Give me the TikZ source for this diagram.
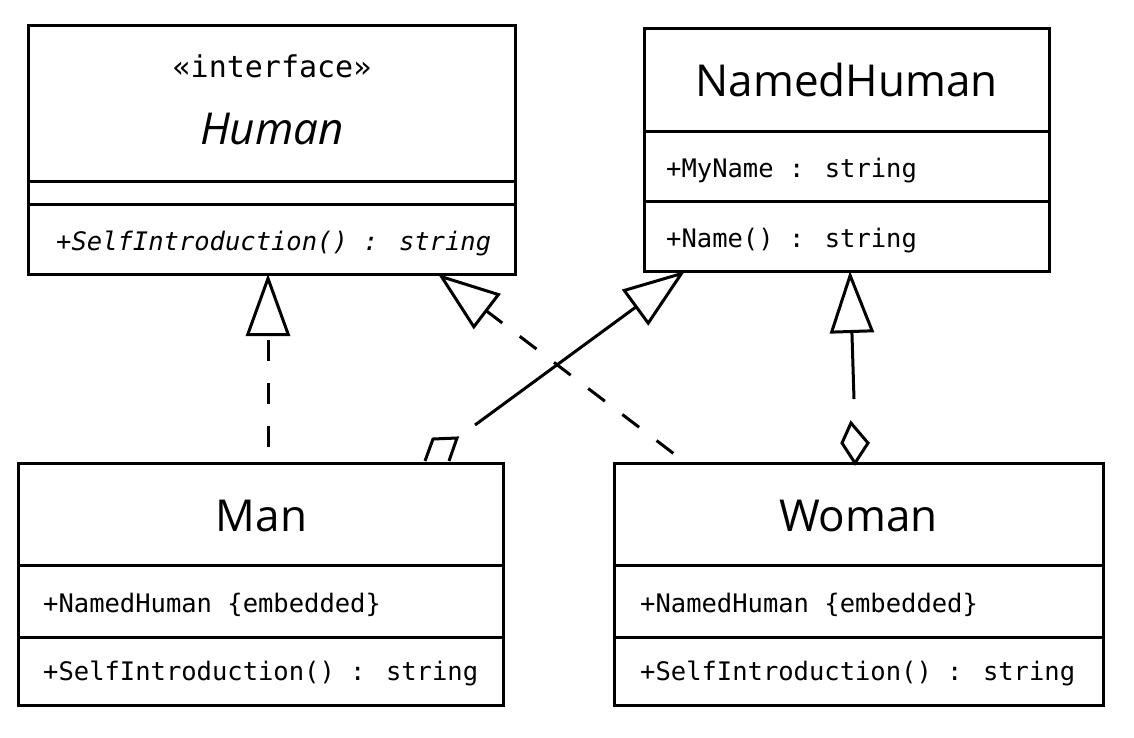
\documentclass[tikz,border=0pt]{standalone}
\usepackage{fontspec}
\setmainfont{Open Sans}
\newfontfamily\monofont{DejaVu Sans Mono}
\usetikzlibrary{arrows.meta}
\tikzset{
  umlbox/.style={draw, line width=3pt, fill=white, rectangle, outer sep=0pt, inner sep=0pt},
  sepline/.style={line width=3pt},
  titletxt/.style={font=\fontsize{44}{48}\selectfont, inner sep=0pt, anchor=base},
  stereotxt/.style={font=\monofont\fontsize{30}{34}\selectfont, inner sep=0pt, anchor=base},
  membertxt/.style={font=\monofont\fontsize{25.5}{30}\selectfont, inner sep=0pt, anchor=base west},
  conn/.style={line width=3pt, -{Triangle[length=62pt, width=44pt, fill=white, line join=miter]}},
  dashconn/.style={conn, dash pattern=on 21pt off 22pt, dash phase=27pt},
  aggshape/.style={line width=3pt, fill=white, line join=miter},
}
\begin{document}
\begin{tikzpicture}[x=1pt, y=-1pt]
\useasboundingbox (0,0) rectangle (1134,737);

% Human interface
\node[umlbox, minimum width=487pt, minimum height=249pt] (human) at (271.5,149.5) {};
\draw[sepline] (human.west |- 0,181) -- (human.east |- 0,181);
\draw[sepline] (human.west |- 0,204) -- (human.east |- 0,204);
\node[stereotxt] (humanst) at (272,77) {«interface»};
\node[titletxt, font=\fontsize{44}{48}\selectfont\itshape] (humant) at (272,144) {Human};
\node[membertxt, font=\monofont\fontsize{25.5}{30}\selectfont\itshape] (humanm) at (56,250) {+SelfIntroduction() : string};

% NamedHuman
\node[umlbox, minimum width=405pt, minimum height=243pt] (named) at (846.5,149.5) {};
\draw[sepline] (named.west |- 0,131) -- (named.east |- 0,131);
\draw[sepline] (named.west |- 0,201) -- (named.east |- 0,201);
\node[titletxt] (namedt) at (846.5,96) {NamedHuman};
\node[membertxt] (nameda) at (666,177) {+MyName : string};
\node[membertxt] (namedm) at (666,247) {+Name() : string};

% Man
\node[umlbox, minimum width=485pt, minimum height=242pt] (man) at (260.5,584) {};
\draw[sepline] (man.west |- 0,565) -- (man.east |- 0,565);
\draw[sepline] (man.west |- 0,637) -- (man.east |- 0,637);
\node[titletxt] (mant) at (261.5,531) {Man};
\node[membertxt] (mana) at (43,612) {+NamedHuman \{embedded\}};
\node[membertxt] (manm) at (43,680) {+SelfIntroduction() : string};

% Woman
\node[umlbox, minimum width=489pt, minimum height=242pt] (woman) at (858.5,584) {};
\draw[sepline] (woman.west |- 0,565) -- (woman.east |- 0,565);
\draw[sepline] (woman.west |- 0,637) -- (woman.east |- 0,637);
\node[titletxt] (womant) at (858.5,531) {Woman};
\node[membertxt] (womana) at (640,612) {+NamedHuman \{embedded\}};
\node[membertxt] (womanm) at (640,680) {+SelfIntroduction() : string};

% Realizations (dashed)
\draw[dashconn] (man.north -| 268,0) -- (human.south -| 268,0);
\draw[dashconn] (woman.north -| 686,0) -- (human.south -| 438,0);

% Embedding links (solid)
\coordinate (mstart) at (475,425);
\draw[conn] (mstart) -- (named.south -| 685,0);
\draw[aggshape] (425,461) -- (433,439) -- (457,438) -- (449,461);

\coordinate (wstart) at (854,399);
\draw[conn] (wstart) -- (named.south -| 850,0);
\draw[aggshape] (855,463) -- (868,443) -- (851,423) -- (842,443) -- cycle;
\end{tikzpicture}
\end{document}
